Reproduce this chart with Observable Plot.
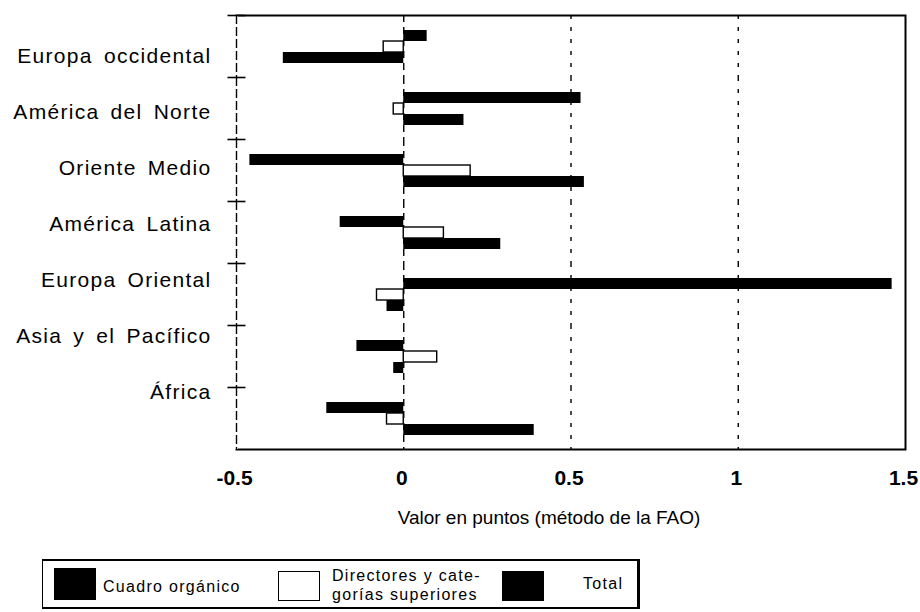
<!DOCTYPE html>
<html>
<head>
<meta charset="utf-8">
<script src="https://cdn.jsdelivr.net/npm/d3@7"></script>
<script src="https://cdn.jsdelivr.net/npm/@observablehq/plot@0.6"></script>
<style>
  body { margin: 0; background: #fff; font-family: "Liberation Sans", Arial, sans-serif; color: #000; }
  #wrap { position: relative; width: 920px; height: 612px; overflow: hidden; }
  #wrap svg { position: absolute; top: 0; left: 0; }
  #legend { position: absolute; left: 42px; top: 559px; width: 598px; height: 50px; box-sizing: border-box;
            border: 2px solid #000; border-right-width: 3px; border-left-width: 1.5px; }
  .sw { position: absolute; box-sizing: border-box; }
  .lt { position: absolute; font-size: 16px; letter-spacing: 1.3px; line-height: 19px; white-space: nowrap; }
</style>
</head>
<body>
<div id="wrap">
  <div id="chart"></div>
  <div id="labels"></div>
  <div id="legend"></div>
</div>
<script>
// ---- data ----
const regions = ["Europa occidental", "América del Norte", "Oriente Medio", "América Latina",
                 "Europa Oriental", "Asia y el Pacífico", "África"];
const series = ["Cuadro orgánico", "Directores y categorías superiores", "Total"];
const cuadro     = [0.07, 0.53, -0.46, -0.19, 1.46, -0.14, -0.23];
const directores = [-0.06, -0.03, 0.20, 0.12, -0.08, 0.10, -0.05];
const total      = [-0.36, 0.18, 0.54, 0.29, -0.05, -0.03, 0.39];
const xTicks = [-0.5, 0, 0.5, 1, 1.5];
const gridValues = [0.5, 1];
const xTitle = "Valor en puntos (método de la FAO)";
const legendLabels = ["Cuadro orgánico", "Directores y cate-\ngorías superiores", "Total"];

// ---- table ----
const rows = regions.flatMap((r, i) => [
  {region: r, series: series[0], value: cuadro[i]},
  {region: r, series: series[1], value: directores[i]},
  {region: r, series: series[2], value: total[i]}
]);

const hline = {draw(ctx, size) { const r = Math.sqrt(size / Math.PI); ctx.moveTo(-r, 0); ctx.lineTo(r, 0); }};

const chart = Plot.plot({
  width: 920,
  height: 545,
  marginLeft: 236,
  marginRight: 15,
  marginTop: 12,
  marginBottom: 94,
  style: {fontFamily: "'Liberation Sans', Arial, sans-serif", fontSize: "19px", color: "#000", background: "transparent"},
  x: {domain: [-0.5, 1.5]},
  fy: {domain: regions, padding: 0, axis: null},
  y: {domain: series, paddingInner: 0, paddingOuter: 1.11, axis: null},
  marks: [
    Plot.ruleX(gridValues, {strokeDasharray: "4,8", strokeWidth: 1.4}),
    Plot.ruleX([0], {strokeDasharray: "7,5", strokeWidth: 1.4}),
    Plot.frame({facet: "super", strokeWidth: 2}),
    Plot.ruleX([-0.5], {stroke: "white", strokeWidth: 3}),
    Plot.ruleX([-0.5], {strokeDasharray: "9,3", strokeWidth: 1.4}),
    Plot.dot(regions, {fy: d => d, x: () => -0.5, frameAnchor: "top", symbol: hline, r: 9, stroke: "black", fill: "none", strokeWidth: 1.6}),
    Plot.barX(rows.filter(d => d.series !== series[1]), {fy: "region", y: "series", x: "value", fill: "black"}),
    Plot.barX(rows.filter(d => d.series === series[1]), {fy: "region", y: "series", x: "value", fill: "white", stroke: "black", strokeWidth: 1.4}),
    Plot.axisX({ticks: xTicks, tickFormat: d => String(d), tickSize: 0, tickPadding: 21, fontSize: 21, fontWeight: "bold", label: null, dx: -2}),
    Plot.text([{t: xTitle, r: regions[regions.length - 1]}], {fy: "r", text: "t", frameAnchor: "bottom", dy: 74, dx: -22, fontSize: 19, letterSpacing: "0.2px"})
  ]
});
document.getElementById("chart").append(chart);

// category labels (hand-lettered placement in the original)
const labelPlot = Plot.plot({
  width: 236,
  height: 451,
  marginLeft: 214,
  marginRight: 22,
  marginTop: 54,
  marginBottom: 58,
  style: {fontFamily: "'Liberation Sans', Arial, sans-serif", fontSize: "21px", color: "#000", background: "transparent", letterSpacing: "1.3px", wordSpacing: "4px"},
  y: {type: "point", domain: regions, padding: 0},
  marks: [Plot.axisY({tickSize: 0, tickPadding: 3, fontSize: 21, label: null})]
});
document.getElementById("labels").append(labelPlot);

// legend
const legend = document.getElementById("legend");
const items = [
  {sw: {left: 11, top: 7, w: 42, h: 32, fill: "#000", border: "none"}, text: {left: 60, top: 16}},
  {sw: {left: 235, top: 10, w: 42, h: 30, fill: "#fff", border: "1.5px solid #000"}, text: {left: 289, top: 5}},
  {sw: {left: 459, top: 10, w: 42, h: 30, fill: "#000", border: "none"}, text: {left: 540, top: 13}}
];
items.forEach((it, i) => {
  const s = document.createElement("div");
  s.className = "sw";
  Object.assign(s.style, {left: it.sw.left + "px", top: it.sw.top + "px", width: it.sw.w + "px", height: it.sw.h + "px", background: it.sw.fill, border: it.sw.border});
  legend.append(s);
  const t = document.createElement("div");
  t.className = "lt";
  Object.assign(t.style, {left: it.text.left + "px", top: it.text.top + "px"});
  t.innerHTML = legendLabels[i].split("\n").join("<br>");
  legend.append(t);
});
</script>
</body>
</html>
